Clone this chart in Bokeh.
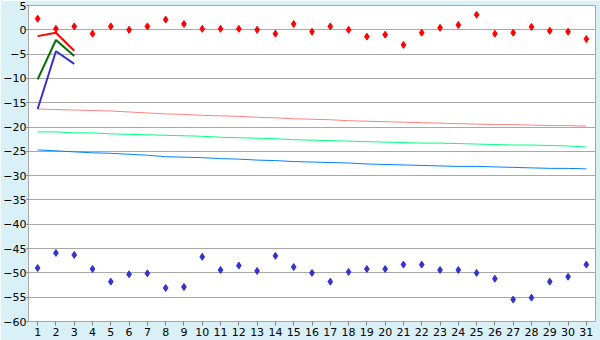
from bokeh.plotting import figure
from bokeh.models import Range1d, FixedTicker
from bokeh.embed import file_html
from bokeh.resources import INLINE

days = list(range(1, 32))

rec_max = [2.3, 0.2, 0.7, -0.8, 0.7, 0.0, 0.7, 2.1, 1.2, 0.2, 0.2, 0.2, 0.0, -0.8, 1.2,
           -0.4, 0.7, 0.0, -1.4, -1.0, -3.1, -0.6, 0.4, 1.0, 3.1, -0.8, -0.6, 0.6, -0.2, -0.4, -1.9]
rec_min = [-49.0, -45.9, -46.3, -49.2, -51.8, -50.3, -50.1, -53.1, -52.9, -46.7, -49.4, -48.5,
           -49.6, -46.5, -48.8, -50.0, -51.8, -49.8, -49.2, -49.2, -48.3, -48.3, -49.4, -49.4,
           -50.0, -51.2, -55.5, -55.1, -51.8, -50.8, -48.3]

norm_max = [-16.3, -16.4, -16.5, -16.6, -16.7, -16.9, -17.1, -17.3, -17.4, -17.6, -17.7, -17.8,
            -18.0, -18.1, -18.3, -18.4, -18.5, -18.7, -18.8, -18.9, -19.0, -19.1, -19.2, -19.3,
            -19.4, -19.5, -19.5, -19.6, -19.7, -19.7, -19.8]
norm_mean = [-21.0, -21.0, -21.2, -21.2, -21.4, -21.5, -21.6, -21.7, -21.8, -21.9, -22.1, -22.2,
             -22.3, -22.4, -22.6, -22.7, -22.8, -22.9, -23.0, -23.1, -23.2, -23.3, -23.3, -23.4,
             -23.5, -23.6, -23.7, -23.7, -23.8, -23.9, -24.1]
norm_min = [-24.7, -24.9, -25.1, -25.3, -25.4, -25.6, -25.8, -26.1, -26.2, -26.3, -26.5, -26.6,
            -26.8, -26.9, -27.1, -27.2, -27.3, -27.4, -27.6, -27.7, -27.8, -27.9, -28.0, -28.1,
            -28.1, -28.2, -28.3, -28.4, -28.5, -28.5, -28.6]

cur_days = [1, 2, 3]
cur_max = [-1.3, -0.6, -4.3]
cur_mean = [-10.2, -2.1, -5.4]
cur_min = [-16.3, -4.4, -7.0]

y_ticks = list(range(-60, 10, 5))

p = figure(width=600, height=340, output_backend="svg", toolbar_location=None,
           x_range=Range1d(0.5, 31.5), y_range=Range1d(-60, 5),
           min_border_left=0, min_border_right=5, min_border_top=5, min_border_bottom=19)

p.border_fill_color = "#DAF0F7"
p.background_fill_color = "white"
p.outline_line_color = "#A8A8A8"

p.xaxis.ticker = FixedTicker(ticks=days)
p.yaxis.ticker = FixedTicker(ticks=y_ticks)
for ax in (p.xaxis, p.yaxis):
    ax.axis_line_color = "#A8A8A8"
    ax.major_tick_line_color = "#808080"
    ax.minor_tick_line_color = None
    ax.major_tick_in = 0
    ax.major_tick_out = 4
    ax.major_label_text_font = "DejaVu Sans"
    ax.major_label_text_font_size = "11px"
    ax.major_label_text_color = "black"
p.yaxis.major_label_standoff = 0
p.yaxis.major_tick_out = 2
p.xaxis.major_label_standoff = 2
p.xgrid.grid_line_color = None
p.ygrid.grid_line_color = "#A8A8A8"

p.line(days, norm_max, color="#FF8080", line_width=1)
p.line(days, norm_mean, color="#00FF80", line_width=1)
p.line(days, norm_min, color="#0080FF", line_width=1)

p.line(cur_days, cur_max, color="#FF0000", line_width=2)
p.line(cur_days, cur_mean, color="#007000", line_width=2)
p.line(cur_days, cur_min, color="#3333CC", line_width=2)

p.scatter(days, rec_max, marker="diamond", size=7, color="#FF0000")
p.scatter(days, rec_min, marker="diamond", size=7, color="#3333CC")

open("out.html", "w").write(file_html(p, INLINE))
